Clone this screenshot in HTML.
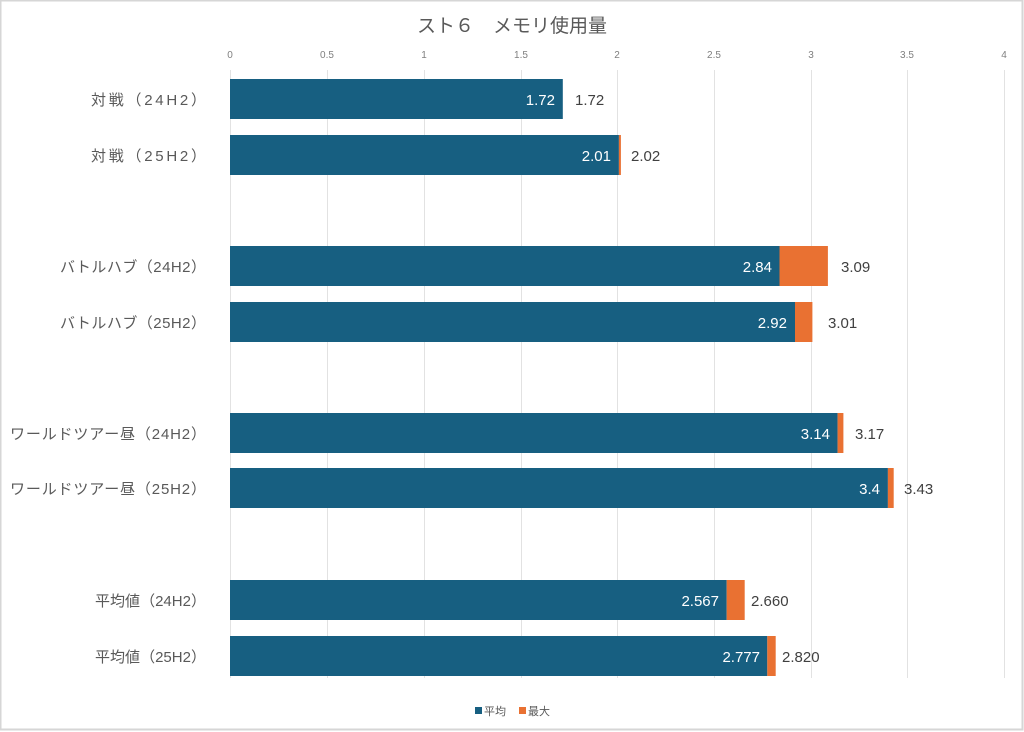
<!DOCTYPE html>
<html><head><meta charset="utf-8"><style>
html,body{margin:0;padding:0;background:#fff}
svg{display:block}
text{font-family:"Liberation Sans","Noto Sans CJK JP",sans-serif}
</style></head><body>
<svg width="1024" height="732" viewBox="0 0 1024 732" xmlns="http://www.w3.org/2000/svg">
<rect x="0.5" y="0.5" width="1022" height="729" fill="#fff" stroke="#d6d6d6" stroke-width="2"/>
<text x="512" y="32" text-anchor="middle" font-size="19" fill="#595959">スト６　メモリ使用量</text>
<g stroke="#e2e2e2" stroke-width="1">
<line x1="230.5" y1="70" x2="230.5" y2="678"/>
<line x1="327.5" y1="70" x2="327.5" y2="678"/>
<line x1="424.5" y1="70" x2="424.5" y2="678"/>
<line x1="521.5" y1="70" x2="521.5" y2="678"/>
<line x1="617.5" y1="70" x2="617.5" y2="678"/>
<line x1="714.5" y1="70" x2="714.5" y2="678"/>
<line x1="811.5" y1="70" x2="811.5" y2="678"/>
<line x1="907.5" y1="70" x2="907.5" y2="678"/>
<line x1="1004.5" y1="70" x2="1004.5" y2="678"/>
</g>
<g font-size="10" fill="#7f7f7f" text-anchor="middle">
<text x="230" y="58">0</text><text x="327" y="58">0.5</text><text x="424" y="58">1</text><text x="521" y="58">1.5</text><text x="617" y="58">2</text><text x="714" y="58">2.5</text><text x="811" y="58">3</text><text x="907" y="58">3.5</text><text x="1004" y="58">4</text>
</g>
<g fill="#175f81">
<rect x="230" y="79" width="332.8" height="40"/>
<rect x="230" y="135" width="388.9" height="40"/>
<rect x="230" y="246" width="549.5" height="40"/>
<rect x="230" y="302" width="565" height="40"/>
<rect x="230" y="413" width="607.6" height="40"/>
<rect x="230" y="468" width="657.9" height="40"/>
<rect x="230" y="580" width="496.7" height="40"/>
<rect x="230" y="636" width="537.3" height="40"/>
</g>
<g fill="#e97132">
<rect x="618.9" y="135" width="2" height="40"/>
<rect x="779.5" y="246" width="48.4" height="40"/>
<rect x="795" y="302" width="17.4" height="40"/>
<rect x="837.6" y="413" width="5.8" height="40"/>
<rect x="887.9" y="468" width="5.8" height="40"/>
<rect x="726.7" y="580" width="18" height="40"/>
<rect x="767.3" y="636" width="8.4" height="40"/>
</g>
<g font-size="15" fill="#fff" text-anchor="end">
<text x="555" y="105">1.72</text>
<text x="611" y="161">2.01</text>
<text x="772" y="272">2.84</text>
<text x="787" y="328">2.92</text>
<text x="830" y="439">3.14</text>
<text x="880" y="494">3.4</text>
<text x="719" y="606">2.567</text>
<text x="760" y="662">2.777</text>
</g>
<g font-size="15" fill="#404040">
<text x="575" y="105">1.72</text>
<text x="631" y="161">2.02</text>
<text x="841" y="272">3.09</text>
<text x="828" y="328">3.01</text>
<text x="855" y="439">3.17</text>
<text x="904" y="494">3.43</text>
<text x="751" y="606">2.660</text>
<text x="782" y="662">2.820</text>
</g>
<g font-size="15" fill="#595959" text-anchor="end">
<text x="206" y="105" textLength="115">対戦（24H2）</text>
<text x="206" y="161" textLength="115">対戦（25H2）</text>
<text x="206" y="272" textLength="146">バトルハブ（24H2）</text>
<text x="206" y="328" textLength="146">バトルハブ（25H2）</text>
<text x="206" y="439" textLength="196">ワールドツアー昼（24H2）</text>
<text x="206" y="494" textLength="196">ワールドツアー昼（25H2）</text>
<text x="206" y="606" textLength="111">平均値（24H2）</text>
<text x="206" y="662" textLength="111">平均値（25H2）</text>
</g>
<rect x="475" y="707" width="7" height="7" fill="#175f81"/>
<text x="484" y="715" font-size="11" fill="#595959">平均</text>
<rect x="519" y="707" width="7" height="7" fill="#e97132"/>
<text x="528" y="715" font-size="11" fill="#595959">最大</text>
</svg>
</body></html>
